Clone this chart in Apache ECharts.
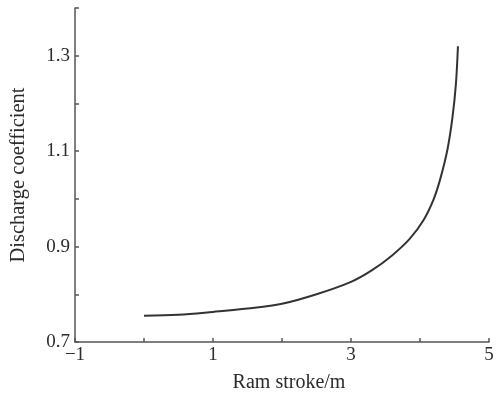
<!DOCTYPE html>
<html>
<head>
<meta charset="utf-8">
<script src="https://cdn.jsdelivr.net/npm/echarts@6/dist/echarts.min.js"></script>
<style>
html,body{margin:0;padding:0;background:#fff;}
#chart{width:504px;height:398px;}
</style>
</head>
<body>
<div id="chart"></div>
<script>
// Data
const strokeX = [0, 0.5, 1.0, 1.5, 2.0, 2.5, 3.0, 3.3, 3.6, 3.85, 4.05, 4.2, 4.3, 4.4, 4.47, 4.52, 4.55];
const coeffY  = [0.755, 0.757, 0.763, 0.770, 0.780, 0.800, 0.826, 0.850, 0.882, 0.916, 0.955, 1.000, 1.045, 1.105, 1.170, 1.240, 1.320];
const xTickLabels = {'-1': '\u22121', '1': '1', '3': '3', '5': '5'};
const yTickLabels = {'0.7': '0.7', '0.9': '0.9', '1.1': '1.1', '1.3': '1.3'};
const xName = 'Ram stroke/m';
const yName = 'Discharge coefficient';

const points = strokeX.map((x, i) => [x, coeffY[i]]);
const font = '"Liberation Serif", "DejaVu Serif", serif';
const textColor = '#2b2b2b';
const axisColor = '#555';

const chart = echarts.init(document.getElementById('chart'));
chart.setOption({
  animation: false,
  grid: {left: 73, right: 15, top: 8, bottom: 52},
  xAxis: {
    type: 'value', min: -1, max: 5, interval: 1,
    name: xName, nameLocation: 'middle', nameGap: 31,
    nameTextStyle: {fontFamily: font, fontSize: 20, color: textColor, padding: [0, 0, 0, 14]},
    axisLine: {show: true, onZero: false, lineStyle: {color: axisColor, width: 1.5}},
    axisTick: {show: true, inside: true, length: 4, lineStyle: {color: axisColor, width: 1.5}},
    axisLabel: {
      fontFamily: font, fontSize: 19, color: textColor, margin: 4,
      formatter: v => { const k = String(Math.round(v)); return xTickLabels[k] || ''; }
    },
    splitLine: {show: false}
  },
  yAxis: {
    type: 'value', min: 0.7, max: 1.4, interval: 0.1,
    name: yName, nameLocation: 'middle', nameGap: 46, nameRotate: 90,
    nameTextStyle: {fontFamily: font, fontSize: 20.5, color: textColor},
    axisLine: {show: true, onZero: false, lineStyle: {color: axisColor, width: 1.5}},
    axisTick: {show: true, inside: true, length: 4, lineStyle: {color: axisColor, width: 1.5}},
    axisLabel: {
      fontFamily: font, fontSize: 19, color: textColor, margin: 5,
      formatter: v => { const k = (Math.round(v * 10) / 10).toFixed(1); return yTickLabels[k] || ''; }
    },
    splitLine: {show: false}
  },
  series: [{
    type: 'line', data: points, smooth: 0.35, symbol: 'none',
    lineStyle: {color: '#333', width: 2}
  }]
});
</script>
</body>
</html>
